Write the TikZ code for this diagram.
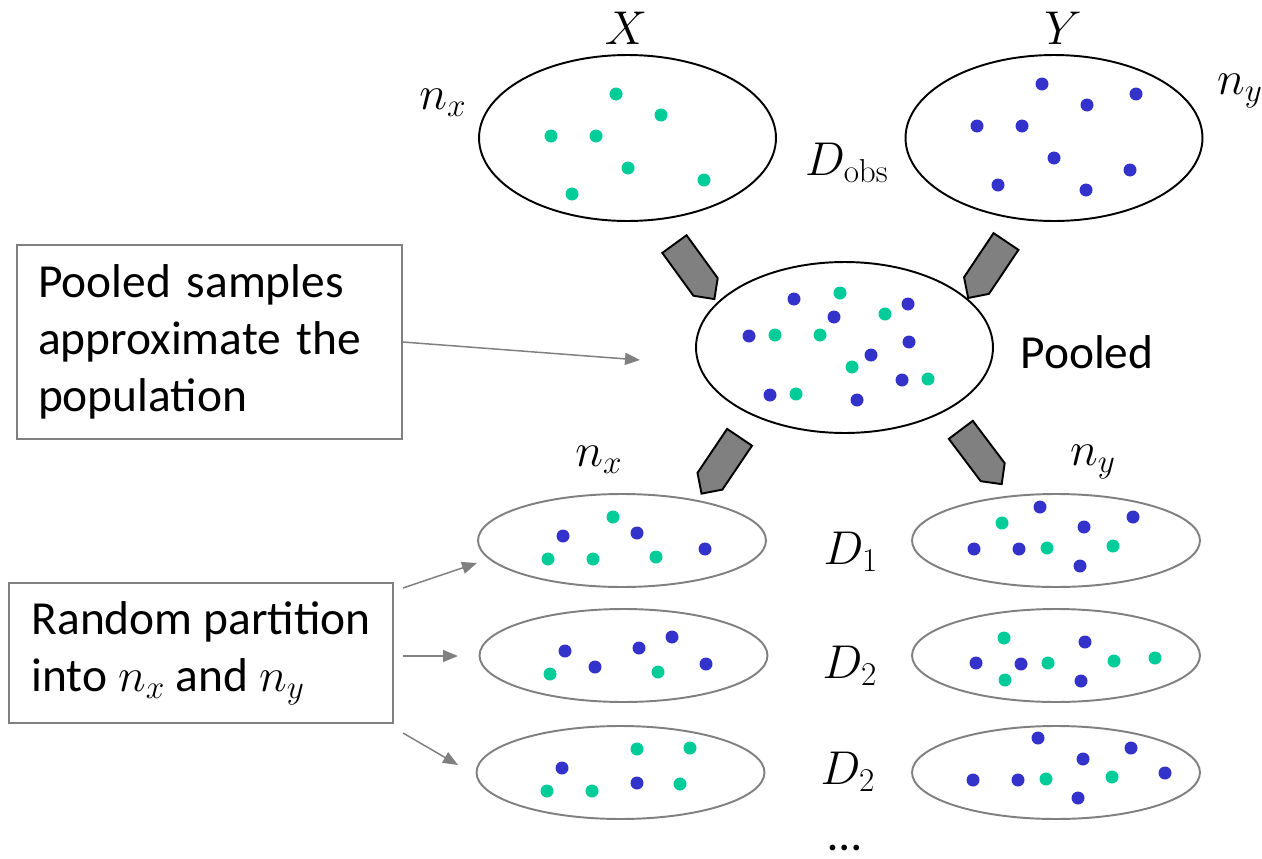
\documentclass[tikz,border=0pt]{standalone}
\usepackage{fix-cm}
\usepackage[no-math]{fontspec}
\setmainfont{Carlito}
\usetikzlibrary{shapes.geometric,shapes.arrows,arrows.meta}
\definecolor{ptgreen}{RGB}{0,204,153}
\definecolor{ptblue}{RGB}{51,51,204}
\definecolor{linegray}{RGB}{128,128,128}
\tikzset{
  sample/.style={draw, ellipse, line width=1.1pt, minimum width=5.94cm, minimum height=3.32cm},
  perm/.style={draw=linegray, ellipse, line width=1.1pt, minimum width=5.76cm, minimum height=1.86cm},
  flowarrow/.style={draw=black, fill=linegray, single arrow, line width=1.1pt, minimum height=1.36cm, minimum width=0.6cm, single arrow head extend=0pt, inner sep=0pt},
  notebox/.style={draw=linegray, line width=0.8pt, align=left, font=\fontsize{27}{32.4}\selectfont},
  noteline/.style={draw=linegray, line width=0.85pt, -{Triangle[length=0.3cm,width=0.24cm]}},
  lbl/.style={font=\fontsize{27}{32.4}\selectfont, inner sep=0pt},
  xdot/.style={fill=ptgreen},
  ydot/.style={fill=ptblue}
}
\begin{document}
\begin{tikzpicture}[x=0.02cm, y=-0.02cm]
\useasboundingbox (0,0) rectangle (1262,859);

\node[sample] at (627.5,138) (xs) {};
\node[sample] at (1054,138) (ys) {};
\node[sample, minimum height=3.42cm] at (844.5,347.5) (pooled) {};

\node[lbl] at (626,28) (xlab) {$X$};
\node[lbl] at (1063,28) (ylab) {$Y$};
\node[lbl] at (443,103) (nxtop) {$n_x$};
\node[lbl] at (1240,91) (nytop) {$n_y$};
\node[lbl] at (847,163) (dobs) {$D_{\mathrm{obs}}$};
\node[lbl] at (1087,352) (poolab) {Pooled};

\foreach \x/\y in {616/94, 661/115, 551/136, 596/136, 628/168, 704/180, 572/194}
  \fill[xdot] (\x,\y) circle[radius=0.13cm];
\foreach \x/\y in {1042/84, 1087/105, 1136/94, 977/126, 1022/126, 1054/158, 1130/170, 998/185, 1086/190}
  \fill[ydot] (\x,\y) circle[radius=0.13cm];
\foreach \x/\y in {840/293, 885/314, 775/335, 820/335, 852/367, 928/379, 796/394}
  \fill[xdot] (\x,\y) circle[radius=0.13cm];
\foreach \x/\y in {794/299, 834/317, 908/304, 749/336, 909/342, 871/355, 902/380, 770/395, 857/400}
  \fill[ydot] (\x,\y) circle[radius=0.13cm];

\node[flowarrow, rotate=-54] at (690,265.5) (xin) {};
\node[flowarrow, rotate=-123.8] at (991.25,263.5) (yin) {};
\node[flowarrow, rotate=-124] at (724.75,459.25) (xout) {};
\node[flowarrow, rotate=-53] at (976.75,451) (yout) {};

\node[lbl] at (599,460) (nxbot) {$n_x$};
\node[lbl] at (1093,462) (nybot) {$n_y$};

\node[perm] at (622,540.5) (lone) {};
\node[perm] at (1056,540.5) (rone) {};
\node[perm] at (623.5,655.5) (ltwo) {};
\node[perm] at (1056,655.5) (rtwo) {};
\node[perm] at (620.5,772.5) (lthree) {};
\node[perm] at (1056,772.5) (rthree) {};

\node[lbl] at (851,552) (done) {$D_1$};
\node[lbl] at (850,666) (dtwo) {$D_2$};
\node[lbl] at (848,772) (dthree) {$D_2$};
\node[lbl, anchor=base] at (845,850) (dmore) {\ldots};

\foreach \x/\y in {613/517, 548/559, 593/559, 656/557,
                   550/674, 658/672,
                   637/749, 690/748, 547/791, 592/791, 680/784}
  \fill[xdot] (\x,\y) circle[radius=0.13cm];
\foreach \x/\y in {563/536, 637/533, 705/549,
                   565/651, 639/648, 672/637, 595/667, 706/664,
                   562/768, 637/783}
  \fill[ydot] (\x,\y) circle[radius=0.13cm];
\foreach \x/\y in {1002/523, 1047/548, 1113/546,
                   1004/638, 1048/663, 1114/661, 1155/658, 1005/680,
                   1046/779, 1112/777}
  \fill[xdot] (\x,\y) circle[radius=0.13cm];
\foreach \x/\y in {1040/507, 1084/527, 1133/517, 974/549, 1019/549, 1080/566,
                   1085/642, 976/663, 1021/664, 1081/681,
                   1038/738, 1083/759, 1131/748, 973/780, 1018/780, 1165/773, 1078/798}
  \fill[ydot] (\x,\y) circle[radius=0.13cm];

\node[notebox, text width=6.86cm, inner xsep=0.42cm, minimum height=3.88cm] at (209.5,342) (poolnote) {Pooled samples\\approximate the\\population};
\node[notebox, minimum width=7.68cm, minimum height=2.8cm] at (201,653) (partnote) {Random partition\\into $n_x$ and $n_y$};

\coordinate (poolpt) at (640,360);
\coordinate (ps1) at (403,588);
\coordinate (pe1) at (477,563);
\coordinate (ps2) at (403,656);
\coordinate (pe2) at (458,656);
\coordinate (ps3) at (403,733);
\coordinate (pe3) at (458,765);

\draw[noteline] (poolnote.east) -- (poolpt);
\draw[noteline] (ps1) -- (pe1);
\draw[noteline] (ps2) -- (pe2);
\draw[noteline] (ps3) -- (pe3);
\end{tikzpicture}
\end{document}
